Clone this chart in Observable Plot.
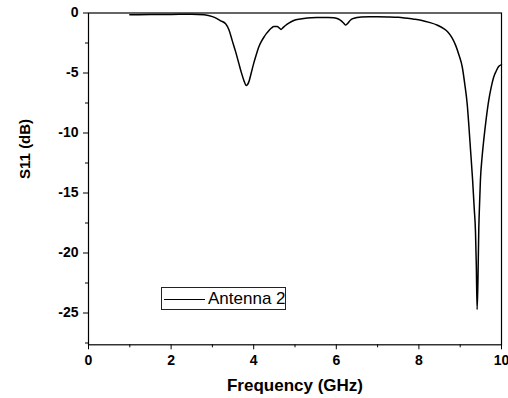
<!DOCTYPE html>
<html>
<head>
<meta charset="utf-8">
<script src="https://cdn.jsdelivr.net/npm/d3@7"></script>
<script src="https://cdn.jsdelivr.net/npm/@observablehq/plot@0.6"></script>
<style>
  html, body { margin: 0; padding: 0; background: #fff; }
  #wrap { position: relative; width: 508px; height: 398px; font-family: "Liberation Sans", Arial, sans-serif; }
  #legend { position: absolute; left: 161px; top: 287px; width: 125px; height: 23px; border: 1px solid #222; box-sizing: border-box; background: #fff; }
  #legend .sw { position: absolute; left: 2px; top: 10.5px; width: 41px; height: 0; border-top: 1.5px solid #000; }
  #legend .lb { position: absolute; left: 46px; top: 0px; line-height: 21px; font-size: 17px; color: #000; white-space: nowrap; }
</style>
</head>
<body>
<div id="wrap"></div>
<script>
const freq = [1.0, 1.5, 2.0, 2.5, 2.8, 3.0, 3.1, 3.2, 3.32, 3.4, 3.48, 3.56, 3.64, 3.7, 3.76, 3.82, 3.88, 3.94, 4.0, 4.06, 4.12, 4.18, 4.25, 4.31, 4.37, 4.43, 4.49, 4.57, 4.62, 4.66, 4.71, 4.77, 4.85, 4.97, 5.13, 5.3, 5.53, 5.8, 5.94, 6.05, 6.12, 6.18, 6.23, 6.28, 6.34, 6.40, 6.5, 6.6, 6.8, 7.0, 7.25, 7.5, 7.65, 7.85, 8.05, 8.25, 8.45, 8.6, 8.7, 8.8, 8.89, 8.97, 9.05, 9.11, 9.17, 9.21, 9.25, 9.30, 9.34, 9.37, 9.39, 9.41, 9.43, 9.45, 9.47, 9.49, 9.53, 9.57, 9.63, 9.69, 9.75, 9.81, 9.87, 9.93, 10.0];
const s11 = [-0.15, -0.13, -0.12, -0.1, -0.15, -0.3, -0.45, -0.65, -0.9, -1.4, -2.3, -3.2, -4.2, -4.95, -5.6, -6.04, -5.76, -5.0, -4.2, -3.5, -2.85, -2.4, -2.0, -1.7, -1.45, -1.25, -1.12, -1.12, -1.25, -1.37, -1.22, -1.04, -0.85, -0.62, -0.5, -0.42, -0.38, -0.37, -0.4, -0.5, -0.65, -0.85, -1.0, -0.85, -0.6, -0.47, -0.38, -0.33, -0.32, -0.32, -0.33, -0.36, -0.41, -0.5, -0.6, -0.78, -1.02, -1.3, -1.58, -2.05, -2.7, -3.5, -4.5, -5.9, -7.6, -9.4, -11.4, -13.9, -16.3, -18.2, -21.0, -24.7, -22.2, -18.0, -15.8, -13.9, -12.0, -10.6, -8.8, -7.3, -6.2, -5.35, -4.85, -4.46, -4.3];
const xTicks = [0, 2, 4, 6, 8, 10];
const xMinor = [1, 3, 5, 7, 9];
const yTicks = [0, -5, -10, -15, -20, -25];
const yMinor = [-2.5, -7.5, -12.5, -17.5, -22.5, -27.5];
const xLabel = "Frequency (GHz)";
const yLabel = "S11 (dB)";
const seriesName = "Antenna 2";

const data = freq.map((f, i) => ({f, s: s11[i]}));

const chart = Plot.plot({
  width: 508,
  height: 398,
  marginLeft: 88,
  marginRight: 7,
  marginTop: 12.5,
  marginBottom: 53.7,
  x: {domain: [0, 10]},
  y: {domain: [-27.65, 0]},
  style: {fontFamily: '"Liberation Sans", Arial, sans-serif', fontSize: "14px", fontWeight: "bold", color: "#000", background: "#fff"},
  marks: [
    Plot.axisX(xTicks, {tickSize: 5, tickPadding: 5, tickFormat: d => String(d), label: null, fontSize: 14}),
    Plot.axisX(xMinor, {tickSize: 3, tickFormat: () => "", label: null}),
    Plot.axisY(yTicks, {tickSize: 5, tickPadding: 5, tickFormat: d => String(d), label: null, fontSize: 14}),
    Plot.axisY(yMinor, {tickSize: 3, tickFormat: () => "", label: null}),
    Plot.frame({stroke: "#000", strokeWidth: 1.2}),
    Plot.line(data, {x: "f", y: "s", stroke: "#000", strokeWidth: 1.5, curve: "monotone-x"}),
    Plot.text([yLabel], {text: d => d, frameAnchor: "left", dx: -63, rotate: -90, fontSize: 15, fontWeight: "bold"}),
    Plot.text([xLabel], {text: d => d, frameAnchor: "bottom", dy: 46, fontSize: 17, fontWeight: "bold"})
  ]
});

const wrap = document.getElementById("wrap");
wrap.appendChild(chart);
const lg = document.createElement("div");
lg.id = "legend";
lg.innerHTML = '<div class="sw"></div><div class="lb"></div>';
lg.querySelector(".lb").textContent = seriesName;
wrap.appendChild(lg);
</script>
</body>
</html>
